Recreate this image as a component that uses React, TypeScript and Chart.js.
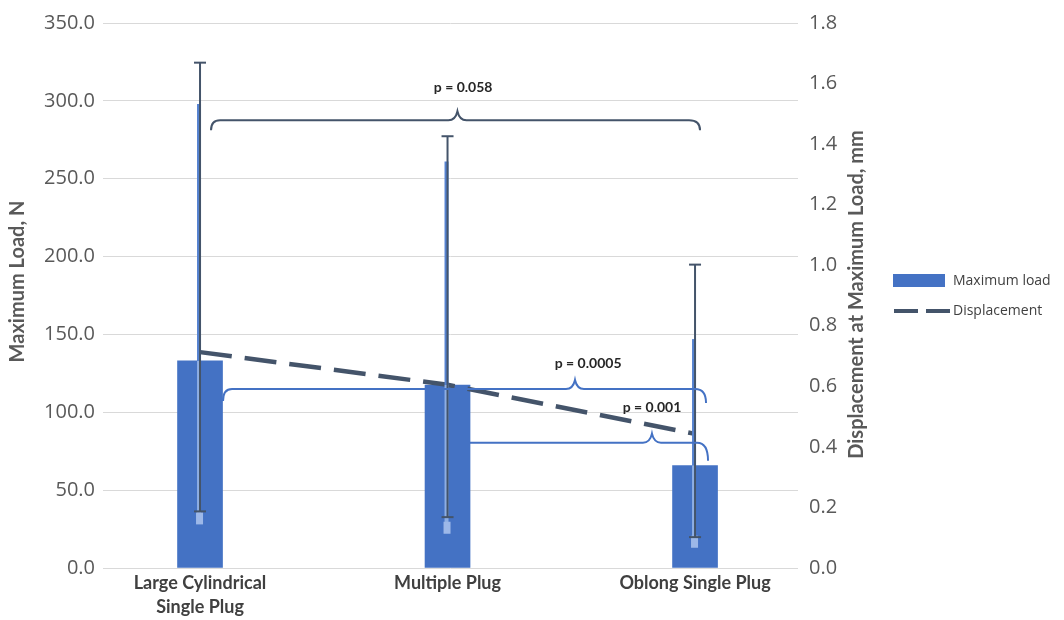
import React, { useEffect, useRef } from "react";
import { Chart, registerables } from "chart.js";

Chart.register(...registerables);

// ---- data ----
const categories: (string | string[])[] = [
  ["Large Cylindrical", "Single Plug"],
  "Multiple Plug",
  "Oblong Single Plug",
];
const maxLoad = [133, 117.5, 65.8];
const loadErrHigh = [298, 261, 147];
const loadErrLow = [28, 22, 13];
const displacement = [0.713, 0.605, 0.443];
const dispErrHigh = [1.669, 1.426, 1.002];
const dispErrLow = [0.187, 0.168, 0.102];

const pLabels = ["p = 0.058", "p = 0.0005", "p = 0.001"];
const bracketFrom = [0, 0, 1];
const bracketTo = [2, 2, 2];
const bracketLevelN = [287.5, 115, 80.5];
const bracketPeakX = [1.04, 1.515, 1.826];
const labelX = [1.063, 1.568, 1.826];
const labelYN = [308.5, 131.6, 102.8];

const legendLabels = ["Maximum load", "Displacement"];
const leftTitle = "Maximum Load, N";
const rightTitle = "Displacement at Maximum Load, mm";

// ---- styles ----
const BAR = "#4472C4";
const DARK = "#44546A";
const GRID = "#D9D9D9";
const TICK = "#595959";

const bracketStyle = [
  { color: DARK, startOff: 11, endOff: 4, leftDrop: 10, rightDrop: 10 },
  { color: BAR, startOff: 23, endOff: 10, leftDrop: 12, rightDrop: 14 },
  { color: BAR, startOff: 22, endOff: 12, leftDrop: 0, rightDrop: 18 },
];

function line(ctx: CanvasRenderingContext2D, x1: number, y1: number, x2: number, y2: number) {
  ctx.beginPath();
  ctx.moveTo(x1, y1);
  ctx.lineTo(x2, y2);
  ctx.stroke();
}

const overlay = {
  id: "overlay",
  afterDatasetsDraw(chart: any) {
    const { ctx, scales } = chart;
    const xs = scales.x;
    const yl = scales.y;
    const yr = scales.y1;
    ctx.save();
    ctx.setLineDash([]);
    // error bars
    for (let i = 0; i < maxLoad.length; i++) {
      const x = xs.getPixelForValue(i);
      const top = yl.getPixelForValue(maxLoad[i]);
      const hi = yl.getPixelForValue(loadErrHigh[i]);
      const lo = yl.getPixelForValue(loadErrLow[i]);
      ctx.lineCap = "butt";
      ctx.lineWidth = 4;
      ctx.strokeStyle = "#5582d0";
      line(ctx, x - 1, hi, x - 1, top);
      ctx.strokeStyle = "#8eaee3";
      line(ctx, x - 1, top, x - 1, lo - 10);
      ctx.fillStyle = "#9db8e8";
      ctx.fillRect(x - 4, lo - 12, 7, 12);

      const dhi = yr.getPixelForValue(dispErrHigh[i]);
      const dlo = yr.getPixelForValue(dispErrLow[i]);
      ctx.lineWidth = 2;
      ctx.strokeStyle = DARK;
      line(ctx, x, dhi, x, dlo);
      line(ctx, x - 6, dhi, x + 6, dhi);
      line(ctx, x - 6, dlo, x + 6, dlo);
    }
    // brackets
    for (let b = 0; b < pLabels.length; b++) {
      const st = bracketStyle[b];
      const x1 = xs.getPixelForValue(bracketFrom[b]) + st.startOff;
      const x2 = xs.getPixelForValue(bracketTo[b]) + st.endOff;
      const y = yl.getPixelForValue(bracketLevelN[b]);
      const px = xs.getPixelForValue(bracketPeakX[b]);
      ctx.strokeStyle = st.color;
      ctx.lineWidth = 2;
      ctx.beginPath();
      if (st.leftDrop > 0) {
        ctx.moveTo(x1, y + st.leftDrop);
        ctx.quadraticCurveTo(x1, y, x1 + 9, y);
      } else {
        ctx.moveTo(x1, y);
      }
      ctx.lineTo(px - 9, y);
      ctx.quadraticCurveTo(px - 2, y, px, y - 9);
      ctx.quadraticCurveTo(px + 2, y, px + 9, y);
      ctx.lineTo(x2 - 10, y);
      ctx.quadraticCurveTo(x2 + 1, y, x2 + 1, y + st.rightDrop);
      ctx.stroke();

      ctx.fillStyle = "#262626";
      ctx.font = "bold 14px Lato";
      ctx.textAlign = "center";
      ctx.textBaseline = "middle";
      ctx.fillText(pLabels[b], xs.getPixelForValue(labelX[b]), yl.getPixelForValue(labelYN[b]));
    }
    ctx.restore();
  },
  afterDraw(chart: any) {
    const { ctx, chartArea } = chart;
    ctx.save();
    // axis titles
    ctx.fillStyle = TICK;
    ctx.font = "bold 20px Lato";
    ctx.textAlign = "center";
    ctx.textBaseline = "middle";
    const midY = (chartArea.top + chartArea.bottom) / 2;
    ctx.save();
    ctx.translate(18, midY - 14);
    ctx.rotate(-Math.PI / 2);
    ctx.fillText(leftTitle, 0, 0);
    ctx.restore();
    ctx.save();
    ctx.translate(857, midY - 1);
    ctx.rotate(-Math.PI / 2);
    ctx.fillText(rightTitle, 0, 0);
    ctx.restore();

    // legend
    ctx.fillStyle = BAR;
    ctx.fillRect(893, 274, 52, 13);
    ctx.strokeStyle = DARK;
    ctx.lineWidth = 4;
    ctx.setLineDash([24, 8]);
    line(ctx, 894, 311, 950, 311);
    ctx.setLineDash([]);
    ctx.fillStyle = "#404040";
    ctx.font = '14px "Open Sans"';
    ctx.textAlign = "left";
    ctx.fillText(legendLabels[0], 953, 281);
    ctx.fillText(legendLabels[1], 953, 311);
    ctx.restore();
  },
};

export default function App() {
  const ref = useRef<HTMLCanvasElement | null>(null);
  useEffect(() => {
    if (!ref.current) return;
    const chart = new Chart(ref.current, {
      type: "bar",
      data: {
        datasets: [
          {
            type: "line",
            label: legendLabels[1],
            data: displacement.map((v, i) => ({ x: i, y: v })),
            yAxisID: "y1",
            xAxisID: "x",
            borderColor: DARK,
            borderWidth: 4.5,
            borderDash: [32, 13],
            pointRadius: 0,
            fill: false,
            order: 1,
          } as any,
          {
            type: "bar",
            label: legendLabels[0],
            data: maxLoad.map((v, i) => ({ x: i, y: v })),
            yAxisID: "y",
            xAxisID: "x",
            backgroundColor: BAR,
            barThickness: 45,
            order: 2,
          } as any,
        ],
      },
      options: {
        responsive: false,
        animation: false,
        devicePixelRatio: 1,
        layout: { padding: { top: 20, left: 0, right: 0, bottom: 0 } },
        plugins: { legend: { display: false }, tooltip: { enabled: false } },
        scales: {
          x: {
            type: "linear",
            min: -0.392,
            max: 2.416,
            offset: false,
            afterBuildTicks: (s: any) => {
              s.ticks = categories.map((_, i) => ({ value: i }));
            },
            afterFit: (s: any) => {
              s.height = 52;
            },
            grid: { display: false, offset: false, drawTicks: false },
            border: { display: false },
            ticks: {
              autoSkip: false,
              maxRotation: 0,
              padding: 3,
              color: "#404040",
              font: { family: "Lato", weight: "bold", size: 18, lineHeight: 1.33 },
              callback: (v: any) => categories[v as number],
            },
          },
          y: {
            position: "left",
            min: 0,
            max: 350,
            afterFit: (s: any) => {
              s.width = 103;
            },
            grid: { color: GRID, lineWidth: 1, drawTicks: false },
            border: { display: false },
            ticks: {
              stepSize: 50,
              padding: 8,
              color: TICK,
              font: { family: "Open Sans", size: 20 },
              callback: (v: any) => Number(v).toFixed(1),
            },
          },
          y1: {
            position: "right",
            min: 0,
            max: 1.8,
            afterFit: (s: any) => {
              s.width = 266;
            },
            grid: { display: false, drawTicks: false },
            border: { display: false },
            ticks: {
              stepSize: 0.2,
              padding: 11,
              color: TICK,
              font: { family: "Open Sans", size: 20 },
              callback: (v: any) => Number(v).toFixed(1),
            },
          },
        },
      } as any,
      plugins: [overlay],
    });
    return () => chart.destroy();
  }, []);
  return (
    <div style={{ position: "fixed", left: 0, top: 0, width: 1064, height: 620, background: "#fff" }}>
      <canvas ref={ref} width={1064} height={620} />
    </div>
  );
}
